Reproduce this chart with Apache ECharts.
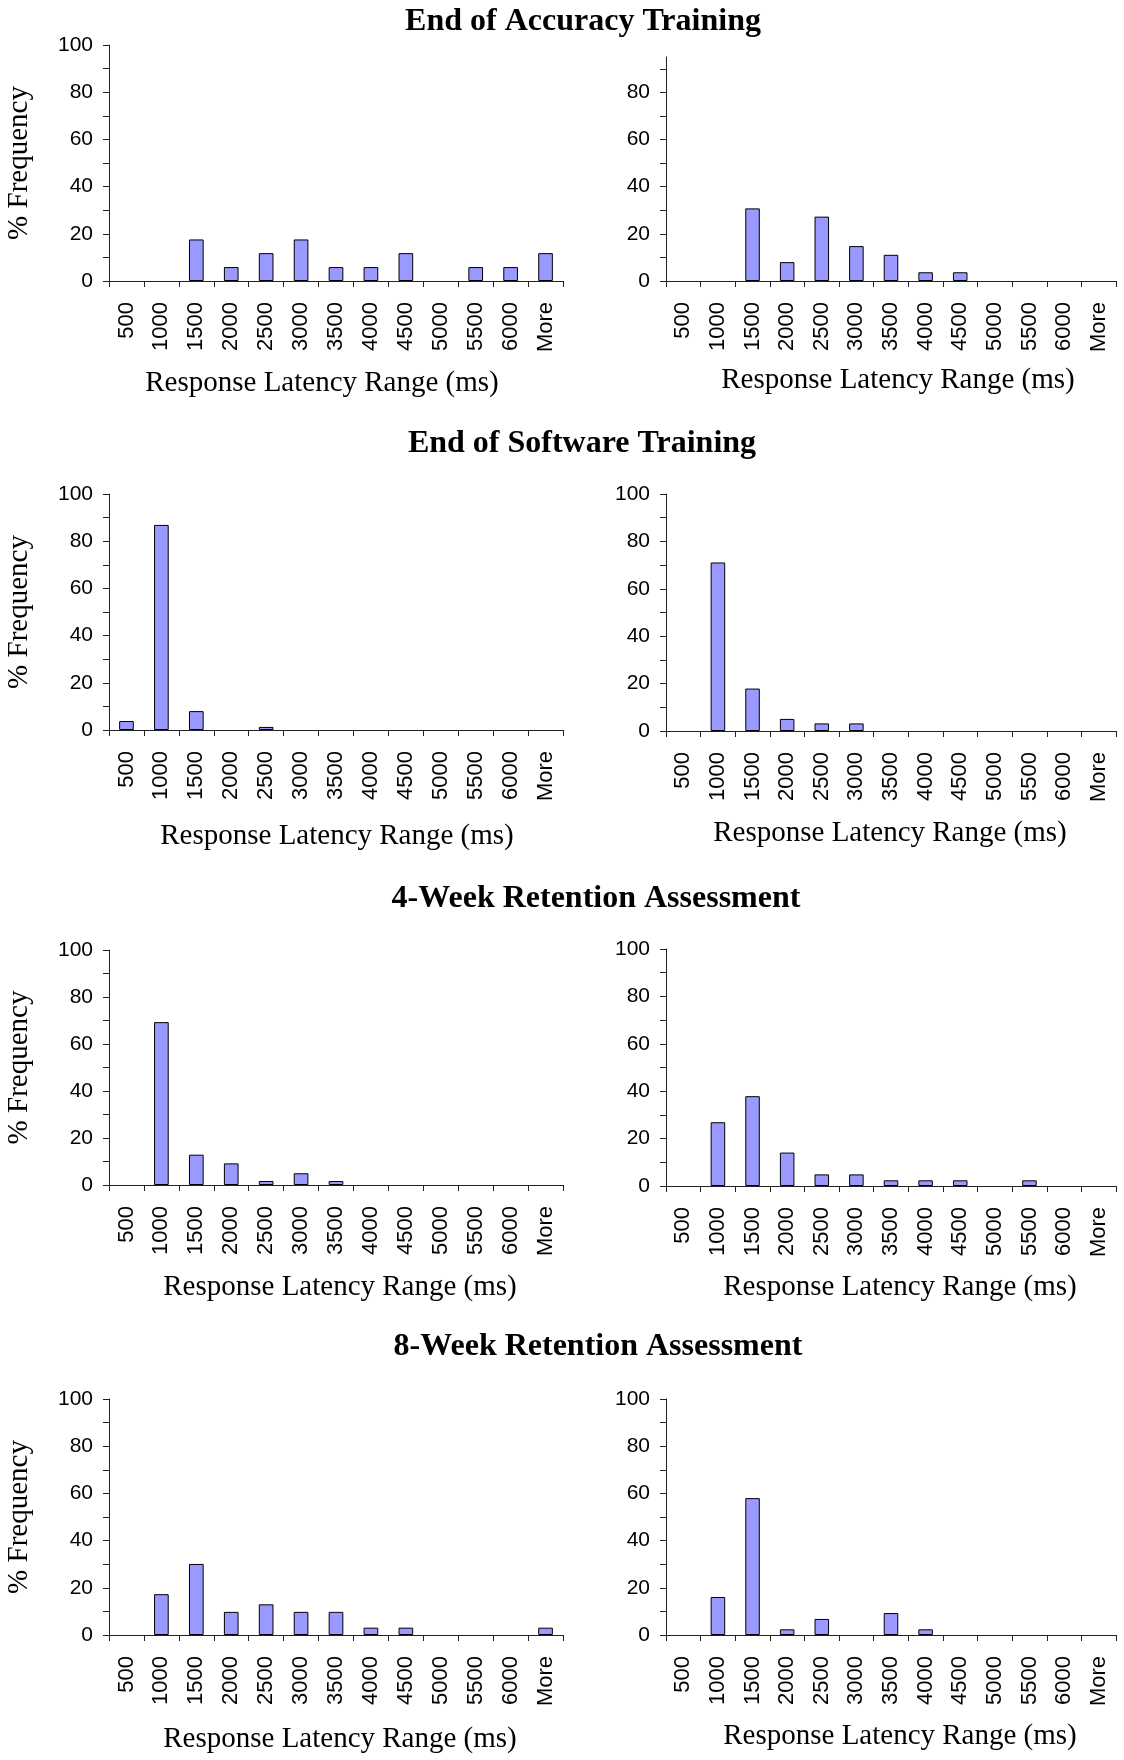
<!DOCTYPE html>
<html>
<head>
<meta charset="utf-8">
<script src="https://cdn.jsdelivr.net/npm/echarts@6/dist/echarts.min.js"></script>
<style>
  html, body { margin: 0; padding: 0; background: #fff; }
  #chart { width: 1124px; height: 1760px; }
</style>
</head>
<body>
<div id="chart"></div>
<script>
// ---------- data ----------
const categories = ['500','1000','1500','2000','2500','3000','3500','4000','4500','5000','5500','6000','More'];

const accuracyLeft  = [0, 0, 17.6, 5.9, 11.8, 17.6, 5.9, 5.9, 11.8, 0, 5.9, 5.9, 11.8];
const accuracyRight = [0, 0, 30.8, 8.0, 27.3, 14.8, 11.1, 3.7, 3.7, 0, 0, 0, 0];
const softwareLeft  = [3.8, 86.9, 8.0, 0, 1.3, 0, 0, 0, 0, 0, 0, 0, 0];
const softwareRight = [0, 71.1, 17.9, 5.1, 3.2, 3.2, 0, 0, 0, 0, 0, 0, 0];
const week4Left     = [0, 69.3, 12.9, 9.2, 1.7, 5.0, 1.7, 0, 0, 0, 0, 0, 0];
const week4Right    = [0, 26.9, 37.9, 14.1, 4.9, 4.9, 2.4, 2.4, 2.4, 0, 2.4, 0, 0];
const week8Left     = [0, 17.3, 30.1, 9.8, 13.0, 9.8, 9.8, 3.1, 3.1, 0, 0, 0, 3.1];
const week8Right    = [0, 16.1, 58.0, 2.4, 6.8, 0, 9.3, 2.4, 0, 0, 0, 0, 0];

const yLabelValues = [0, 20, 40, 60, 80, 100];
const yTickValues  = [0, 10, 20, 30, 40, 50, 60, 70, 80, 90, 100];

const sectionTitles = ['End of Accuracy Training', 'End of Software Training',
                       '4-Week Retention Assessment', '8-Week Retention Assessment'];
const xAxisTitle = 'Response Latency Range (ms)';
const yAxisTitle = '% Frequency';

// ---------- layout ----------
const titleLayout = [
  { cx: 583, top: 6 },
  { cx: 582, top: 428 },
  { cx: 596, top: 883 },
  { cx: 598, top: 1331 }
];

const panels = [
  { data: accuracyLeft,  left: 109, width: 454, top: 45,   height: 236, max: 100, yTitle: true,  nameGap: 88, shift: -14 },
  { data: accuracyRight, left: 666, width: 450, top: 57,   height: 224, max: 95,  yTitle: false, nameGap: 85, shift: 7 },
  { data: softwareLeft,  left: 109, width: 454, top: 494,  height: 236, max: 100, yTitle: true,  nameGap: 92, shift: 1 },
  { data: softwareRight, left: 666, width: 450, top: 494,  height: 237, max: 100, yTitle: false, nameGap: 88, shift: -1 },
  { data: week4Left,     left: 109, width: 454, top: 950,  height: 235, max: 100, yTitle: true,  nameGap: 88, shift: 4 },
  { data: week4Right,    left: 666, width: 450, top: 949,  height: 237, max: 100, yTitle: false, nameGap: 87, shift: 9 },
  { data: week8Left,     left: 109, width: 454, top: 1399, height: 236, max: 100, yTitle: true,  nameGap: 90, shift: 4 },
  { data: week8Right,    left: 666, width: 450, top: 1399, height: 236, max: 100, yTitle: false, nameGap: 87, shift: 9 }
];

const AXIS_COLOR = '#222';
const SANS = '"Liberation Sans", Arial, Helvetica, sans-serif';
const SERIF = '"Liberation Serif", "Times New Roman", Times, serif';

const option = {
  backgroundColor: '#fff',
  animation: false,
  title: sectionTitles.map((t, i) => ({
    text: t,
    left: titleLayout[i].cx,
    top: titleLayout[i].top,
    textAlign: 'center',
    padding: 0,
    textStyle: { fontFamily: SERIF, fontWeight: 'bold', fontSize: 32, color: '#000' }
  })),
  grid: panels.map(p => ({ left: p.left, top: p.top, width: p.width, height: p.height, containLabel: false })),
  xAxis: panels.map((p, i) => ({
    type: 'category',
    gridIndex: i,
    data: categories,
    boundaryGap: true,
    name: xAxisTitle,
    nameLocation: 'middle',
    nameGap: p.nameGap,
    nameTextStyle: {
      fontFamily: SERIF, fontSize: 29, color: '#000',
      padding: p.shift >= 0 ? [0, 0, 0, 2 * p.shift] : [0, -2 * p.shift, 0, 0]
    },
    axisLine: { show: true, lineStyle: { color: AXIS_COLOR, width: 1 } },
    axisTick: { show: true, alignWithLabel: false, interval: 0, length: 6, lineStyle: { color: AXIS_COLOR } },
    axisLabel: { show: true, interval: 0, rotate: 90, margin: 21, fontFamily: SANS, fontSize: 22, color: '#000' },
    splitLine: { show: false }
  })),
  yAxis: panels.map((p, i) => ({
    type: 'value',
    gridIndex: i,
    min: 0,
    max: p.max,
    interval: 10,
    name: p.yTitle ? yAxisTitle : '',
    nameLocation: 'middle',
    nameGap: 75,
    nameTextStyle: { fontFamily: SERIF, fontSize: 29, color: '#000' },
    axisLine: { show: true, lineStyle: { color: AXIS_COLOR, width: 1 } },
    axisTick: {
      show: true, length: 6, lineStyle: { color: AXIS_COLOR },
      customValues: yTickValues.filter(v => v <= p.max)
    },
    axisLabel: {
      show: true, margin: 16, fontFamily: SANS, fontSize: 21, color: '#000',
      customValues: yLabelValues.filter(v => v <= p.max),
      formatter: v => (v % 20 === 0 ? String(v) : '')
    },
    splitLine: { show: false }
  })),
  series: panels.map((p, i) => ({
    type: 'bar',
    xAxisIndex: i,
    yAxisIndex: i,
    // empty bins draw no bar
    data: p.data.map(v => (v === 0 ? null : v)),
    barWidth: '42%',
    itemStyle: { color: '#9999FF', borderColor: '#000', borderWidth: 1 },
    emphasis: { disabled: true },
    silent: true
  }))
};

const chart = echarts.init(document.getElementById('chart'), null, { renderer: 'canvas' });
chart.setOption(option);
</script>
</body>
</html>
